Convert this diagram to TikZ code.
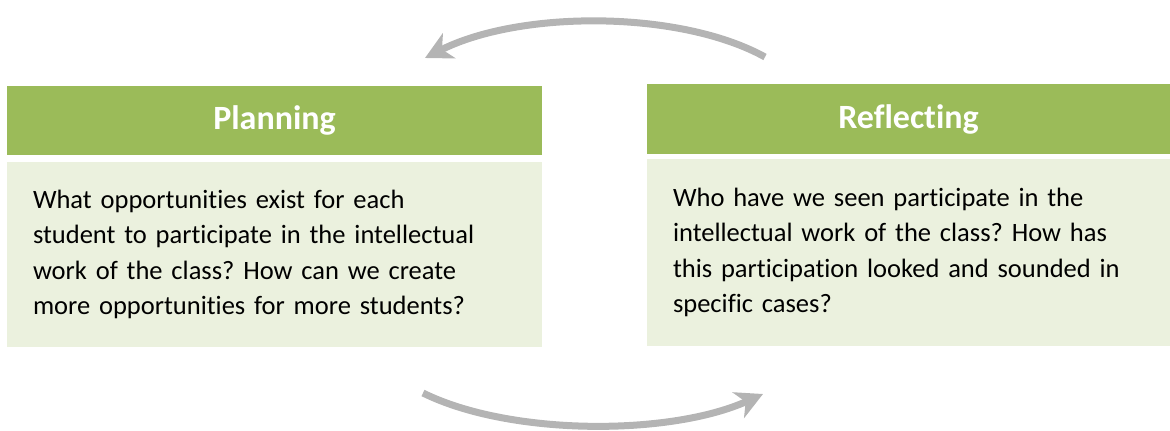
\documentclass[tikz,border=0pt]{standalone}
\usepackage{fontspec}
\setmainfont[Ligatures={NoCommon}]{Carlito}
\usetikzlibrary{arrows.meta}
\definecolor{hdrgreen}{HTML}{9BBB59}
\definecolor{bodygreen}{HTML}{EBF1DE}
\definecolor{arrowgray}{HTML}{B4B4B4}
\frenchspacing
\begin{document}
\begin{tikzpicture}[x=1pt,y=-1pt,
  hdr/.style={rectangle, fill=hdrgreen, inner sep=0pt, text=white,
    font=\fontsize{34}{40}\selectfont\bfseries},
  bodybox/.style={rectangle, fill=bodygreen, inner ysep=0pt, inner xsep=26pt,
    align=left, font=\fontsize{26.5}{35.5}\selectfont, text=black},
  cyclearrow/.style={draw=arrowgray, line width=7pt,
    -{Stealth[length=27pt, width=28pt, inset=8pt, fill=arrowgray]}}
]
\useasboundingbox (0,0) rectangle (1170,431);
% Planning
\node[hdr, minimum width=535pt, minimum height=69pt] (hp) at (274.5,120.5) {Planning};
\node[bodybox, minimum height=185pt, text width=483pt] (bp) at (274.5,254.5)
  {What opportunities exist for each\\student to participate in the intellectual\\work of the class? How can we create\\more opportunities for more students?};
% Reflecting
\node[hdr, minimum width=523pt, minimum height=70pt] (hr) at (908.5,119) {Reflecting};
\node[bodybox, minimum height=187pt, text width=471pt] (br) at (908.5,252.5)
  {Who have we seen participate in the\\intellectual work of the class? How has\\this participation looked and sounded in\\specific cases?};
% arrows
\coordinate (ts) at (765,57);
\coordinate (te) at (425,58);
\coordinate (bs) at (423,393);
\coordinate (be) at (763,394);
\draw[cyclearrow] (ts) .. controls (680,10) and (520,10) .. (te);
\draw[cyclearrow] (bs) .. controls (510,436) and (670,436) .. (be);
\end{tikzpicture}
\end{document}
